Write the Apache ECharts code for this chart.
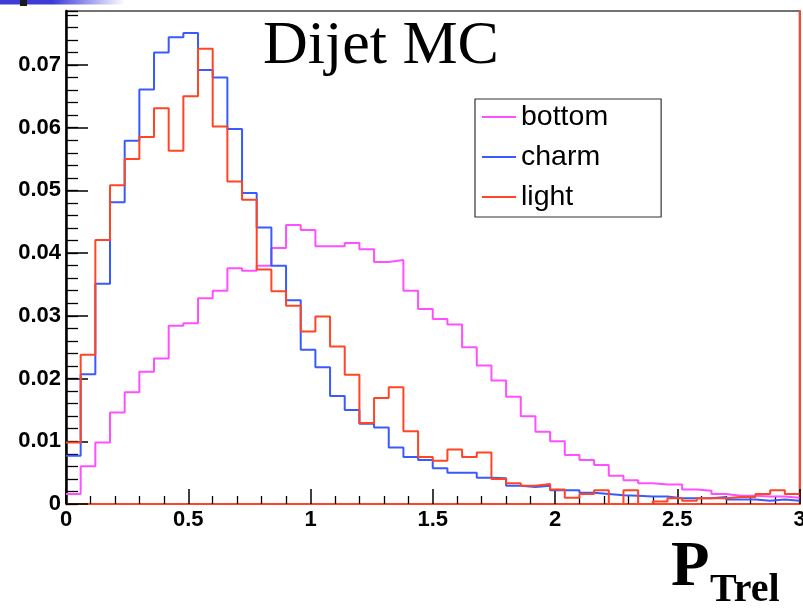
<!DOCTYPE html>
<html>
<head>
<meta charset="utf-8">
<script src="https://cdn.jsdelivr.net/npm/echarts@6/dist/echarts.min.js"></script>
<style>
  html, body { margin: 0; padding: 0; background: #fff; }
  #chart { width: 803px; height: 610px; }
</style>
</head>
<body>
<div id="chart"></div>
<script>
// bins of 0.06 from 0 to 3 (50 bins)
var BIN_W = 0.06;
var NBINS = 50;
var seriesNames = ['bottom', 'charm', 'light'];
var xTicks = ['0', '0.5', '1', '1.5', '2', '2.5', '3'];

var bottomVals = [
  0.0016, 0.0060, 0.0098, 0.0146, 0.0178, 0.0211, 0.0232, 0.0284, 0.0288, 0.0328,
  0.0340, 0.0376, 0.0372, 0.0380, 0.0408, 0.0445, 0.0437, 0.0411, 0.0411, 0.0416,
  0.0406, 0.0386, 0.0389, 0.0340, 0.0311, 0.0295, 0.0286, 0.0250, 0.0221, 0.0197,
  0.0171, 0.0140, 0.0115, 0.0100, 0.0078, 0.0070, 0.0062, 0.0045, 0.0038, 0.0033,
  0.0031, 0.0031, 0.0023, 0.0021, 0.0016, 0.0013, 0.0013, 0.0012, 0.0012, 0.0010
];
var charmVals = [
  0.0077, 0.0207, 0.0351, 0.0481, 0.0579, 0.0661, 0.0720, 0.0744, 0.0751, 0.0692,
  0.0680, 0.0598, 0.0496, 0.0441, 0.0380, 0.0325, 0.0246, 0.0218, 0.0172, 0.0150,
  0.0128, 0.0122, 0.0090, 0.0075, 0.0070, 0.0057, 0.0050, 0.0050, 0.0042, 0.0041,
  0.0029, 0.0027, 0.0029, 0.0022, 0.0022, 0.0018, 0.0016, 0.0014, 0.0013, 0.0012,
  0.0012, 0.0009, 0.0009, 0.0009, 0.0011, 0.0007, 0.0007, 0.0005, 0.0007, 0.0005
];
var lightVals = [
  0.0098, 0.0238, 0.0421, 0.0508, 0.0550, 0.0585, 0.0631, 0.0563, 0.0650, 0.0726,
  0.0602, 0.0514, 0.0485, 0.0374, 0.0339, 0.0316, 0.0275, 0.0299, 0.0251, 0.0206,
  0.0129, 0.0169, 0.0186, 0.0116, 0.0075, 0.0069, 0.0087, 0.0075, 0.0082, 0.0040,
  0.0033, 0.0029, 0.0032, 0.0023, 0.0010, 0.0016, 0.0022, 0.0000, 0.0022, 0.0000,
  0.0004, 0.0009, 0.0005, 0.0009, 0.0009, 0.0011, 0.0011, 0.0016, 0.0022, 0.0016
];

var colors = ['#ff50ff', '#3a5aff', '#ff4525'];
var YMAX = 0.0786;

// histogram -> step line: point at each left edge + closing point at right edge
function toSteps(vals) {
  var out = [];
  for (var i = 0; i < vals.length; i++) {
    out.push([+(i * BIN_W).toFixed(2), vals[i]]);
  }
  out.push([+(NBINS * BIN_W).toFixed(2), vals[vals.length - 1]]);
  return out;
}

var chart = echarts.init(document.getElementById('chart'));
var allVals = [bottomVals, charmVals, lightVals];
var series = [];
for (var s = 0; s < seriesNames.length; s++) {
  series.push({
    name: seriesNames[s],
    type: 'line',
    step: 'end',
    symbol: 'none',
    data: toSteps(allVals[s]),
    lineStyle: { color: colors[s], width: 2 },
    itemStyle: { color: colors[s] },
    z: 3 + s
  });
}

var labelFont = { fontFamily: 'Liberation Sans', fontWeight: 'bold', fontSize: 22, color: '#000' };

var option = {
  animation: false,
  backgroundColor: '#fff',
  grid: {
    left: 66, right: 3.5, top: 11, bottom: 106,
    show: true, borderColor: '#444', borderWidth: 1.5,
    containLabel: false, outerBoundsMode: 'none'
  },
  legend: {
    data: seriesNames,
    orient: 'vertical',
    left: 475, top: 99,
    padding: [3, 53, 5, 7],
    itemGap: 10,
    itemWidth: 34, itemHeight: 2,
    icon: 'rect',
    borderColor: '#333', borderWidth: 1.2,
    backgroundColor: '#fff',
    textStyle: { fontFamily: 'Liberation Sans', fontSize: 28.5, lineHeight: 30, color: '#000' }
  },
  xAxis: {
    type: 'value',
    min: 0, max: 3, interval: 0.5,
    axisLine: { show: true, lineStyle: { color: '#ff4525', width: 2 } },
    axisTick: { show: true, inside: true, length: 15, lineStyle: { color: '#000', width: 1.5 } },
    minorTick: { show: true, splitNumber: 5, length: 8, lineStyle: { color: '#000', width: 1.3 } },
    axisLabel: Object.assign({ margin: 5, formatter: function (v) {
      var i = Math.round(v / 0.5);
      return xTicks[i];
    } }, labelFont),
    splitLine: { show: false }
  },
  yAxis: [
    {
      type: 'value', position: 'left',
      min: 0, max: YMAX, interval: 0.01,
      axisLine: { show: true, lineStyle: { color: '#000', width: 2.5 } },
      axisTick: { show: true, inside: true, length: 22, lineStyle: { color: '#000', width: 1.5 } },
      axisLabel: Object.assign({ margin: 5, showMaxLabel: false }, labelFont),
      splitLine: { show: false }
    },
    {
      type: 'value', position: 'left',
      min: 0, max: YMAX, interval: 0.002,
      axisLine: { show: false },
      axisTick: { show: true, inside: true, length: 12, lineStyle: { color: '#000', width: 1.3 } },
      axisLabel: { show: false },
      splitLine: { show: false }
    },
    {
      type: 'value', position: 'right',
      min: 0, max: YMAX,
      axisLine: { show: true, lineStyle: { color: '#ff4525', width: 2 } },
      axisTick: { show: false },
      axisLabel: { show: false },
      splitLine: { show: false }
    }
  ],
  graphic: [
    {
      type: 'rect', left: 0, top: 0, z: 10,
      shape: { width: 125, height: 4.5 },
      style: {
        fill: new echarts.graphic.LinearGradient(0, 0, 1, 0, [
          { offset: 0, color: '#3c3cd8' },
          { offset: 0.42, color: '#3c3cd8' },
          { offset: 1, color: '#ffffff' }
        ])
      }
    },
    { type: 'rect', left: 20, top: 0, z: 11, shape: { width: 7, height: 6 }, style: { fill: '#1a1a1a' } },
    {
      type: 'text', x: 263, y: 47, z: 10,
      style: { text: 'Dijet MC', font: '62px "Liberation Serif"', fill: '#000', textAlign: 'left', textVerticalAlign: 'middle' }
    },
    {
      type: 'text', x: 671, y: 569, z: 10,
      style: { text: 'P', font: 'bold 63px "Liberation Serif"', fill: '#000', textAlign: 'left', textVerticalAlign: 'middle' }
    },
    {
      type: 'text', x: 710, y: 591, z: 10,
      style: { text: 'Trel', font: 'bold 40px "Liberation Serif"', fill: '#000', textAlign: 'left', textVerticalAlign: 'middle' }
    }
  ],
  series: series
};

chart.setOption(option);
</script>
</body>
</html>
